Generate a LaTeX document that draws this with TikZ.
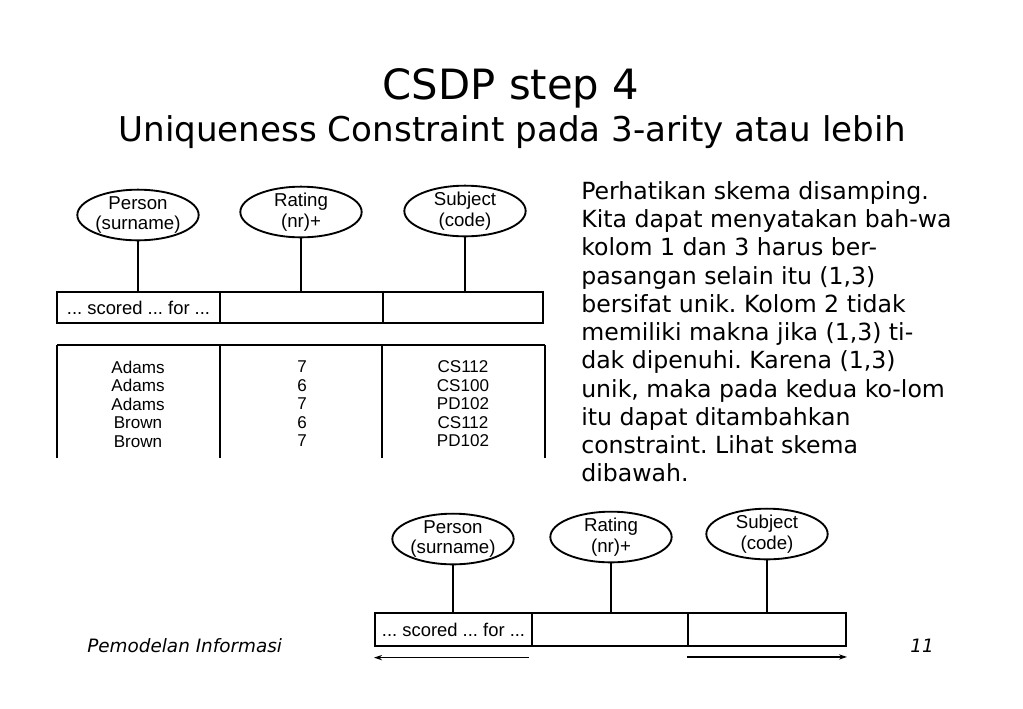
\documentclass[tikz,border=0pt]{standalone}
\usepackage{fontspec}
\setmainfont{DejaVu Sans}
\newfontfamily\arialf{Liberation Sans}
\usetikzlibrary{shapes.geometric,arrows.meta}
\frenchspacing
\begin{document}
\begin{tikzpicture}[x=0.75pt,y=-0.75pt,
  ent/.style={ellipse,draw,line width=1.4pt,minimum width=91pt,minimum height=38pt,inner sep=0pt},
  enttxt/.style={inner sep=0pt,align=center,font=\arialf\fontsize{14}{15.5}\selectfont},
  cell/.style={rectangle,draw,line width=1.4pt,inner sep=0pt,font=\arialf\fontsize{13.8}{15}\selectfont},
  conn/.style={line width=1.4pt},
  tabtxt/.style={inner sep=0pt,align=center,font=\arialf\fontsize{12.8}{13.9}\selectfont},
  arr/.style={line width=0.9pt,-{Stealth[length=6pt,width=4pt]}},
  ttl/.style={inner sep=0pt}
]
\useasboundingbox[fill=white] (0,0) rectangle (1023,708);

% titles
\node[ttl,font=\fontsize{31.3}{36}\selectfont] (title) at (511,88) {CSDP step 4};
\node[ttl,font=\fontsize{25.6}{30}\selectfont] (subtitle) at (512,132) {Uniqueness Constraint pada 3-arity atau lebih};

% upper schema
\node[ent] (p1) at (138,215) {};
\node[enttxt] (p1t) at (p1.center) {Person\\(surname)};
\node[ent] (r1) at (301,212) {};
\node[enttxt] (r1t) at (r1.center) {Rating\\(nr)+};
\node[ent] (s1) at (465,211) {};
\node[enttxt] (s1t) at (s1.center) {Subject\\(code)};
\node[cell,minimum width=122.25pt,minimum height=23.5pt] (c1) at (138.5,307.5) {... scored ... for ...};
\node[cell,minimum width=122.25pt,minimum height=23.5pt] (c2) at (301.5,307.5) {};
\node[cell,minimum width=120pt,minimum height=23.5pt] (c3) at (463,307.5) {};
\draw[conn] (p1.south) -- (p1.south |- c1.north);
\draw[conn] (r1.south) -- (r1.south |- c2.north);
\draw[conn] (s1.south) -- (s1.south |- c3.north);

% table
\coordinate (t0) at (57,345);
\coordinate (t1) at (220,345);
\coordinate (t2) at (382,345);
\coordinate (t3) at (545,345);
\draw[conn] (t0) -- (t3);
\draw[conn] (t0) -- ++(0,113);
\draw[conn] (t1) -- ++(0,113);
\draw[conn] (t2) -- ++(0,113);
\draw[conn] (t3) -- ++(0,113);
\node[tabtxt] (col1) at (138,404) {Adams\\Adams\\Adams\\Brown\\Brown};
\node[tabtxt] (col2) at (302,404) {7\\6\\7\\6\\7};
\node[tabtxt] (col3) at (463,404) {CS112\\CS100\\PD102\\CS112\\PD102};

% body text
\node[inner sep=0pt,anchor=north west,align=left,font=\fontsize{17.7}{21.2}\selectfont] (body) at (581,181)
{Perhatikan skema disamping.\\
Kita dapat menyatakan bah-wa\\
kolom 1 dan 3 harus ber-\\
pasangan selain itu (1,3)\\
bersifat unik. Kolom 2 tidak\\
memiliki makna jika (1,3) ti-\\
dak dipenuhi. Karena (1,3)\\
unik, maka pada kedua ko-lom\\
itu dapat ditambahkan\\
constraint. Lihat skema\\
dibawah.};

% lower schema
\node[ent] (p2) at (453,539) {};
\node[enttxt] (p2t) at (p2.center) {Person\\(surname)};
\node[ent] (r2) at (611,537) {};
\node[enttxt] (r2t) at (r2.center) {Rating\\(nr)+};
\node[ent] (s2) at (767,534) {};
\node[enttxt] (s2t) at (s2.center) {Subject\\(code)};
\node[cell,minimum width=117.75pt,minimum height=24.75pt] (d1) at (453.5,629.5) {... scored ... for ...};
\node[cell,minimum width=117pt,minimum height=24.75pt] (d2) at (610,629.5) {};
\node[cell,minimum width=118.5pt,minimum height=24.75pt] (d3) at (767,629.5) {};
\draw[conn] (p2.south) -- (p2.south |- d1.north);
\draw[conn] (r2.south) -- (r2.south |- d2.north);
\draw[conn] (s2.south) -- (s2.south |- d3.north);
\draw[arr] ([xshift=-3pt,yshift=-8pt]d1.south east) -- ([yshift=-8pt]d1.south west);
\draw[arr] ([yshift=-7.5pt]d3.south west) -- ([yshift=-7.5pt]d3.south east);

% footer
\node[inner sep=0pt,anchor=west,font=\itshape\fontsize{13.8}{16}\selectfont] (foot) at (87,646) {Pemodelan Informasi};
\node[inner sep=0pt,anchor=east,font=\itshape\fontsize{13.8}{16}\selectfont] (pg) at (934,646) {11};
\end{tikzpicture}
\end{document}
